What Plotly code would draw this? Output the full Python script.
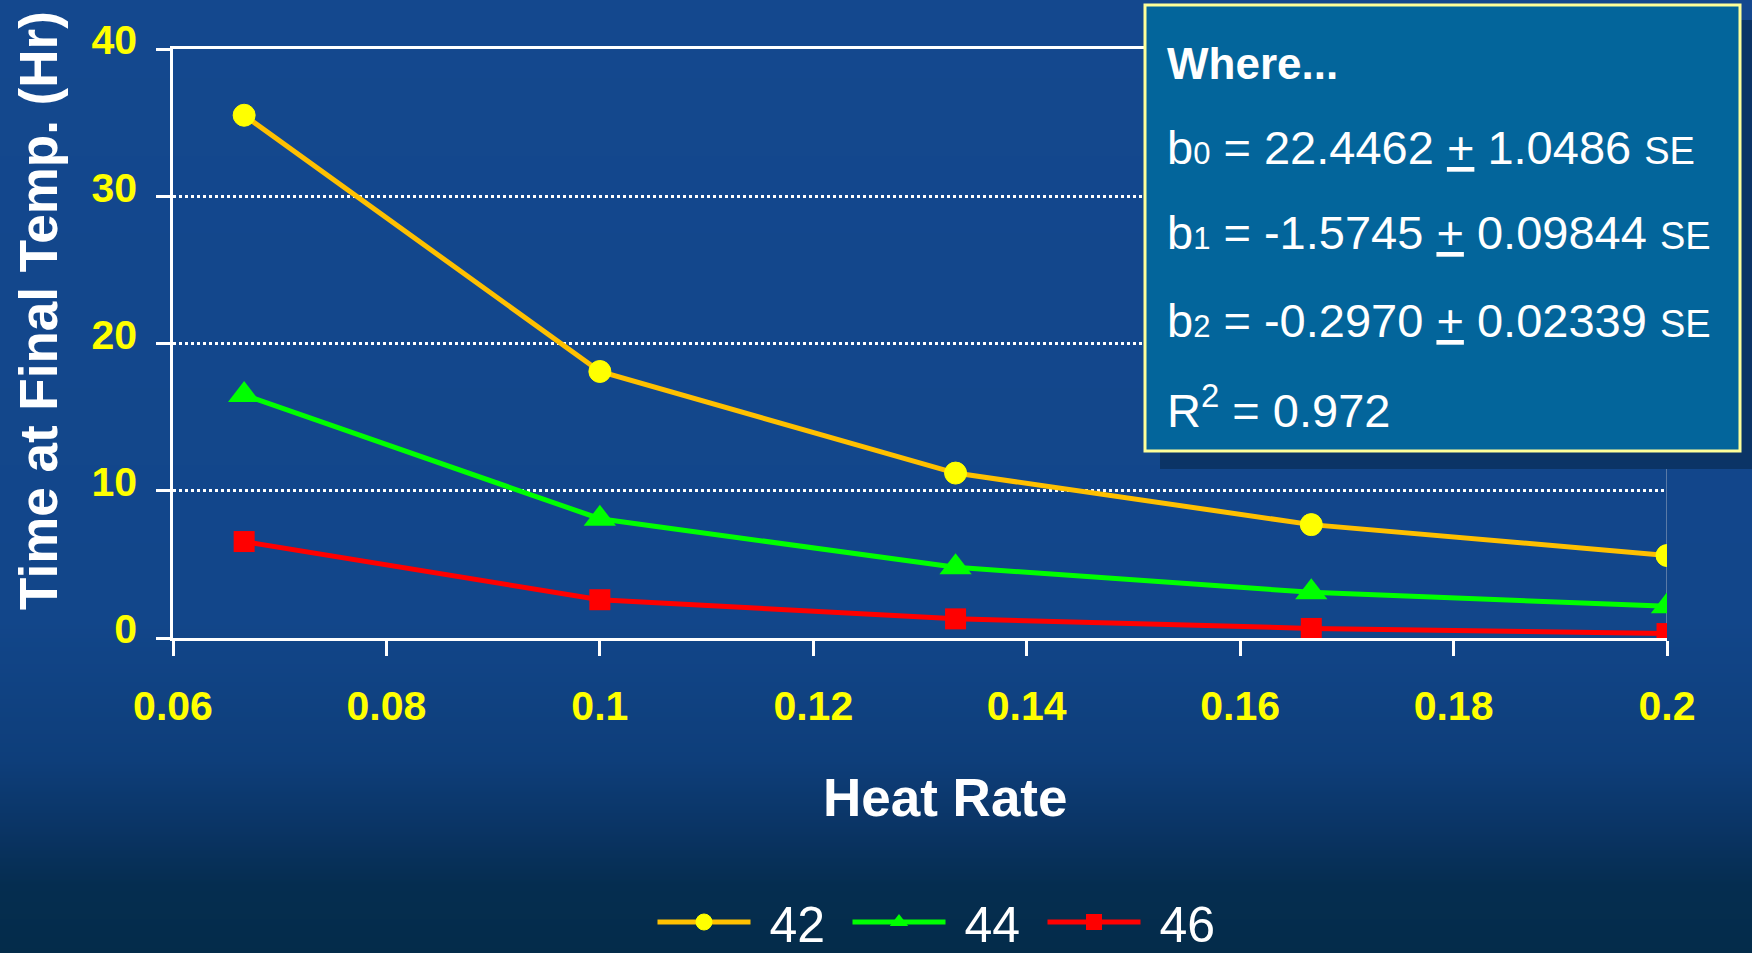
import base64
import struct
import zlib

import numpy as np
import plotly.graph_objects as go

# ---- data -------------------------------------------------------------
heat_rate = [1 / 15, 1 / 10, 2 / 15, 1 / 6, 1 / 5]
series_names = ["42", "44", "46"]
time_42 = [35.5, 18.1, 11.2, 7.7, 5.6]
time_44 = [16.5, 8.1, 4.8, 3.1, 2.15]
time_46 = [6.55, 2.6, 1.3, 0.65, 0.3]

x_ticks = [0.06, 0.08, 0.10, 0.12, 0.14, 0.16, 0.18, 0.20]
x_tick_labels = ["0.06", "0.08", "0.1", "0.12", "0.14", "0.16", "0.18", "0.2"]
y_ticks = [0, 10, 20, 30, 40]
y_tick_labels = ["0", "10", "20", "30", "40"]

# ---- page geometry ----------------------------------------------------
W, H = 1752, 953
L, R, T, B = 173, 85, 49, 315
PW, PH = W - L - R, H - T - B

FONT = "Liberation Sans, Arial, sans-serif"


def px(x):
    return (x - L) / PW


def py(y):
    return (H - B - y) / PH


# ---- background: vertical blue gradient as an inline PNG ---------------
def gradient_png(height, stops, width=4):
    ys = np.arange(height)
    pos = [s[0] for s in stops]
    chans = [np.interp(ys, pos, [s[1][c] for s in stops]) for c in range(3)]
    rgb = np.stack(chans, axis=1).round().astype(np.uint8)
    raw = b"".join(b"\x00" + bytes(np.tile(rgb[i], width)) for i in range(height))

    def chunk(tag, data):
        body = tag + data
        return struct.pack(">I", len(data)) + body + struct.pack(">I", zlib.crc32(body) & 0xFFFFFFFF)

    ihdr = struct.pack(">IIBBBBB", width, height, 8, 2, 0, 0, 0)
    png = b"\x89PNG\r\n\x1a\n" + chunk(b"IHDR", ihdr) + chunk(b"IDAT", zlib.compress(raw, 9)) + chunk(b"IEND", b"")
    return "data:image/png;base64," + base64.b64encode(png).decode()


bg_stops = [
    (0, (20, 72, 142)),
    (620, (18, 70, 138)),
    (760, (14, 62, 122)),
    (830, (10, 52, 100)),
    (885, (5, 45, 80)),
    (953, (4, 44, 74)),
]

fig = go.Figure()

# ---- series -------------------------------------------------------------
fig.add_trace(go.Scatter(
    x=heat_rate, y=time_42, name=" " + series_names[0], mode="lines+markers",
    line=dict(color="#ffc000", width=5),
    marker=dict(symbol="circle", size=22, color="#ffff00",
                line=dict(color="#ffff00", width=1)),
))
fig.add_trace(go.Scatter(
    x=heat_rate, y=time_44, name=" " + series_names[1], mode="lines+markers",
    line=dict(color="#00ff00", width=5),
    marker=dict(symbol="triangle-up", size=28, color="#00ff00"),
))
fig.add_trace(go.Scatter(
    x=heat_rate, y=time_46, name=" " + series_names[2], mode="lines+markers",
    line=dict(color="#ff0000", width=5),
    marker=dict(symbol="square", size=21, color="#ff0000"),
))

# ---- shapes: right frame edge, stats box with drop shadow --------------
shapes = [
    dict(type="line", xref="x", yref="y", x0=0.2, x1=0.2, y0=0, y1=40,
         line=dict(color="rgba(150,165,190,0.55)", width=2), layer="below"),
    dict(type="rect", xref="paper", yref="paper",
         x0=px(1160), x1=px(1758), y0=py(469), y1=py(20),
         fillcolor="#0b3466", line=dict(width=0), layer="above"),
    dict(type="rect", xref="paper", yref="paper",
         x0=px(1145), x1=px(1740), y0=py(451), y1=py(5),
         fillcolor="#03659b", line=dict(color="#ffff99", width=3), layer="above"),
]

sub = "<span style='font-size:31px'>{}</span>"
se = "<span style='font-size:38px'>SE</span>"
box_lines = [
    (63, "<b>Where...</b>", 44),
    (147, "b" + sub.format("0") + " = 22.4462 <u>+</u> 1.0486 " + se, 47),
    (233, "b" + sub.format("1") + " = -1.5745 <u>+</u> 0.09844 " + se, 47),
    (320, "b" + sub.format("2") + " = -0.2970 <u>+</u> 0.02339 " + se, 47),
    (407, "R<sup>2</sup> = 0.972", 47),
]

annotations = []
for yc, txt, fs in box_lines:
    annotations.append(dict(
        xref="paper", yref="paper", x=px(1165), y=py(yc),
        xanchor="left", yanchor="middle", showarrow=False, text=txt,
        font=dict(family=FONT, size=fs, color="white"),
    ))

# axis titles
annotations.append(dict(
    xref="paper", yref="paper", x=px(38), y=py(311), textangle=-90,
    xanchor="center", yanchor="middle", showarrow=False,
    text="<b>Time at Final Temp. (Hr)</b>",
    font=dict(family=FONT, size=53, color="white"),
))
annotations.append(dict(
    xref="paper", yref="paper", x=px(945), y=py(798),
    xanchor="center", yanchor="middle", showarrow=False,
    text="<b>Heat Rate</b>",
    font=dict(family=FONT, size=53, color="white"),
))

fig.update_layout(
    width=W, height=H, autosize=False,
    margin=dict(l=L, r=R, t=T, b=B, pad=0, autoexpand=False),
    paper_bgcolor="#04304f", plot_bgcolor="rgba(0,0,0,0)",
    font=dict(family=FONT, color="white"),
    images=[dict(
        source=gradient_png(H, bg_stops), xref="paper", yref="paper",
        x=px(0), y=py(0), sizex=W / PW, sizey=H / PH,
        xanchor="left", yanchor="top", sizing="stretch", layer="below",
    )],
    shapes=shapes,
    annotations=annotations,
    showlegend=True,
    legend=dict(
        orientation="h", xref="container", yref="container",
        x=945 / W, xanchor="center", y=1 - 922 / H, yanchor="middle",
        font=dict(family=FONT, size=50, color="white"),
        bgcolor="rgba(0,0,0,0)", itemwidth=93,
        entrywidth=87, entrywidthmode="pixels",
        itemclick=False, itemdoubleclick=False,
    ),
    xaxis=dict(
        range=[0.06, 0.2], tickvals=x_ticks, ticktext=x_tick_labels,
        showgrid=False, zeroline=False,
        showline=True, linecolor="white", linewidth=3, mirror=True,
        ticks="outside", ticklen=15, tickwidth=2.5, tickcolor="white",
        ticklabelstandoff=15,
        tickfont=dict(family=FONT, size=41, color="#ffff00", weight="bold"),
    ),
    yaxis=dict(
        range=[0, 40], tickvals=y_ticks, ticktext=y_tick_labels,
        showgrid=True, gridcolor="white", gridwidth=2.5, griddash="3px,3px",
        zeroline=False,
        showline=True, linecolor="white", linewidth=2.5,
        ticks="outside", ticklen=14, tickwidth=2.5, tickcolor="white",
        ticklabelstandoff=11, ticklabelshift=-9,
        tickfont=dict(family=FONT, size=41, color="#ffff00", weight="bold"),
    ),
)

fig.write_html("out.html")
